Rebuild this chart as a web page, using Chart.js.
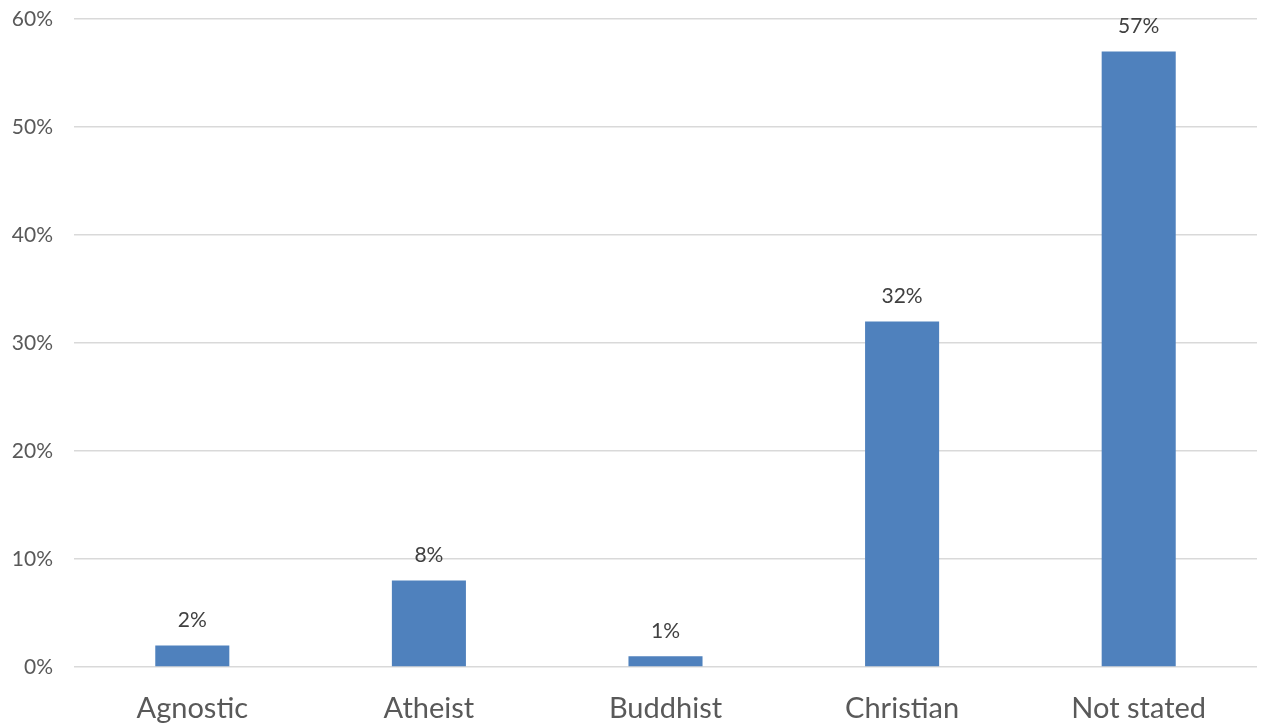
<!DOCTYPE html>
<html>
<head>
<meta charset="utf-8">
<script src="https://cdn.jsdelivr.net/npm/chart.js@4.4.1/dist/chart.umd.min.js"></script>
<style>
  html, body { margin: 0; padding: 0; background: #fff; }
  #wrap { width: 1265px; height: 727px; position: relative; }
</style>
</head>
<body>
<div id="wrap"><canvas id="chart"></canvas></div>
<script>
  // data
  const categories = ['Agnostic', 'Atheist', 'Buddhist', 'Christian', 'Not stated'];
  const shares = [2, 8, 1, 32, 57];
  const yTicks = [0, 10, 20, 30, 40, 50, 60];

  const FONT = 'Lato, "Open Sans", sans-serif';

  // value labels above bars
  const barLabels = {
    id: 'barLabels',
    afterDatasetsDraw(chart) {
      const ctx = chart.ctx;
      const meta = chart.getDatasetMeta(0);
      ctx.save();
      ctx.font = '21px ' + FONT;
      ctx.fillStyle = '#404040';
      ctx.textAlign = 'center';
      ctx.textBaseline = 'middle';
      meta.data.forEach((bar, i) => {
        ctx.fillText(shares[i] + '%', bar.x, bar.y - 25);
      });
      ctx.restore();
    }
  };

  new Chart(document.getElementById('chart').getContext('2d'), {
    type: 'bar',
    data: {
      labels: categories,
      datasets: [{
        data: shares,
        backgroundColor: '#4f81bd',
        borderWidth: 0,
        categoryPercentage: 1,
        barPercentage: 0.313
      }]
    },
    options: {
      responsive: true, maintainAspectRatio: false, animation: false,
      layout: { padding: { top: 19, right: 8, left: 0, bottom: 0 } },
      plugins: { legend: { display: false }, tooltip: { enabled: false } },
      scales: {
        x: {
          grid: { display: false, drawTicks: false },
          border: { display: false },
          ticks: { color: '#595959', font: { family: FONT, size: 29 }, padding: 24 },
          afterFit: s => { s.height = 60; s.paddingLeft = 0; s.paddingRight = 0; }
        },
        y: {
          min: 0, max: 60,
          afterBuildTicks: s => { s.ticks = yTicks.map(v => ({ value: v })); },
          grid: { color: '#d9d9d9', lineWidth: 1.5, drawTicks: false },
          border: { display: false },
          ticks: { color: '#595959', font: { family: FONT, size: 21 }, padding: 21,
                   callback: v => v + '%' },
          afterFit: s => { s.width = 74; s.paddingTop = 0; s.paddingBottom = 0; }
        }
      }
    },
    plugins: [barLabels]
  });
</script>
</body>
</html>
